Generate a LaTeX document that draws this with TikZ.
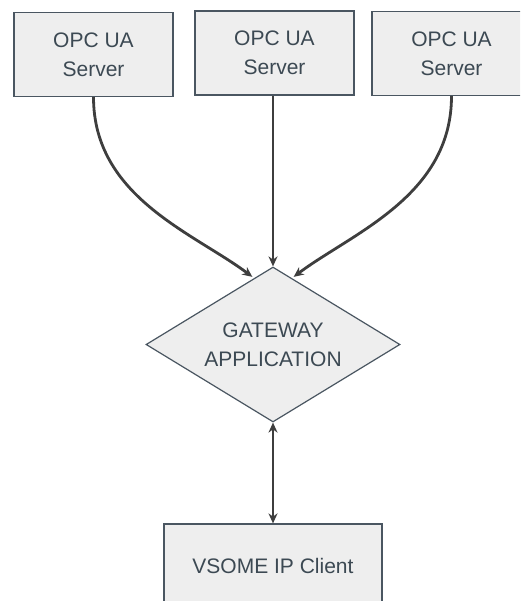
\documentclass[tikz,border=0pt]{standalone}
\usepackage{fontspec}
\setmainfont{Liberation Sans}
\usetikzlibrary{arrows.meta}
\usetikzlibrary{shapes.geometric}
\definecolor{boxfill}{HTML}{EEEEEE}
\definecolor{boxline}{HTML}{4A5661}
\definecolor{boxtext}{HTML}{3C4953}
\definecolor{arrowgray}{HTML}{3E3E3E}
\tikzset{
box/.style={shape=rectangle, draw=boxline, fill=boxfill, line width=1.2pt,
  minimum height=84pt, inner sep=0pt, align=center, text=boxtext,
  font=\fontsize{21}{29}\selectfont},
server/.style={box, minimum width=159pt},
gateway/.style={shape=diamond, aspect=1.64, draw=boxline, fill=boxfill, line width=1.2pt,
  minimum width=254pt, minimum height=155pt, inner sep=0pt, align=center,
  text=boxtext, font=\fontsize{21}{29}\selectfont},
link/.style={draw=arrowgray, line width=2.8pt, >={Stealth[length=10pt,width=9pt]}}}

\begin{document}
\begin{tikzpicture}[x=1pt, y=-1pt]

                    \useasboundingbox (0,0) rectangle (520,601);
                    \clip (0,0) rectangle (520,601);

                    \node[server] (A) at (93.5,54.5) {OPC UA\\Server};
                    \node[server] (B) at (274.5,53) {OPC UA\\Server};
                    \node[server] (C) at (451.5,53.5) {OPC UA\\Server};
                    \node[gateway] (G) at (273,344.5) {GATEWAY\\APPLICATION};
                    \node[box, minimum width=218pt] (V) at (273,566) {VSOME IP Client};

                    \draw[link, ->, shorten >=2pt] (A.south) .. controls +(0,100) and +(-60,-45) .. (G.106);
                    \draw[link, ->] (B.south -| G.north) -- (G.north);
                    \draw[link, ->, shorten >=2pt] (C.south) .. controls +(0,100) and +(60,-45) .. (G.74);
                    \draw[link, <->] (G.south) -- (V.north);

\end{tikzpicture}
\end{document}
